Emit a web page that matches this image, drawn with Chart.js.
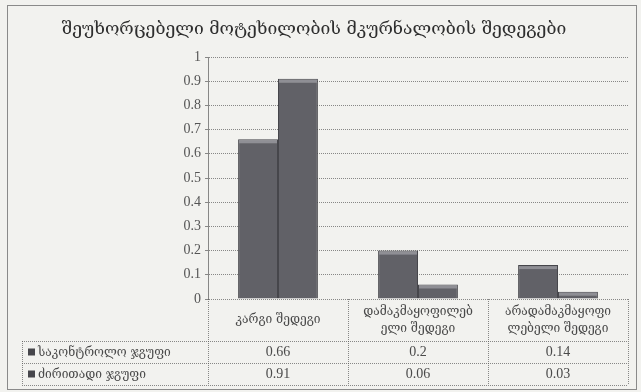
<!DOCTYPE html>
<html>
<head>
<meta charset="utf-8">
<script src="https://cdn.jsdelivr.net/npm/chart.js@4/dist/chart.umd.min.js"></script>
<style>
  html, body { margin: 0; padding: 0; background: #f2f2ef; }
  #wrap { width: 641px; height: 392px; }
</style>
</head>
<body>
<div id="wrap"><canvas id="c" width="641" height="392"></canvas></div>
<script>
// Treatment outcome categories (each label split into the lines shown in the table header)
const categories = [
  ["კარგი შედეგი"],
  ["დამაკმაყოფილებ", "ელი შედეგი"],
  ["არადამაკმაყოფი", "ლებელი შედეგი"]
];
const seriesNames = ["საკონტროლო ჯგუფი", "ძირითადი ჯგუფი"];
const controlGroup = [0.66, 0.2, 0.14];
const mainGroup = [0.91, 0.06, 0.03];
const valueTicks = [0, 0.1, 0.2, 0.3, 0.4, 0.5, 0.6, 0.7, 0.8, 0.9, 1];
const chartTitle = "შეუხორცებელი მოტეხილობის მკურნალობის შედეგები";

const georgianFont = "'DejaVu Serif', 'DejaVu Sans', serif";
const numberFont = "'Liberation Serif', 'DejaVu Serif', serif";
const barFill = "#616167";
const barEdge = "#46464b";
const lineGrey = "rgba(90,90,90,0.7)";

// Paper-coloured background plus the outer frame
const backdrop = {
  id: "backdrop",
  beforeDraw(chart) {
    const ctx = chart.ctx;
    ctx.save();
    ctx.fillStyle = "#f2f2ef";
    ctx.fillRect(0, 0, chart.width, chart.height);
    ctx.strokeStyle = "#8a8a8a";
    ctx.lineWidth = 1;
    ctx.strokeRect(7.5, 5.5, chart.width - 12, chart.height - 8);
    ctx.restore();
  }
};

// Light bevel along the top of each bar
const bevel = {
  id: "bevel",
  afterDatasetsDraw(chart) {
    const ctx = chart.ctx;
    ctx.save();
    chart.data.datasets.forEach((ds, i) => {
      chart.getDatasetMeta(i).data.forEach(bar => {
        const w = bar.width;
        const left = bar.x - w / 2;
        const h = Math.min(3, bar.base - bar.y - 1);
        ctx.fillStyle = "rgba(190,190,196,0.5)";
        ctx.fillRect(left + 1, bar.y + 1, w - 2, h);
      });
    });
    ctx.restore();
  }
};

// Data table under the plot: category header row and one row per series
const dataTable = {
  id: "dataTable",
  afterDraw(chart) {
    const ctx = chart.ctx;
    const area = chart.chartArea;
    const x = chart.scales.x;
    const n = categories.length;
    const colW = (area.right - area.left) / n;
    const headTop = area.bottom;
    const headBottom = area.bottom + 42;
    const rowH = 22;
    const tableLeft = 22;
    const tableBottom = headBottom + rowH * seriesNames.length;

    ctx.save();
    ctx.strokeStyle = lineGrey;
    ctx.lineWidth = 1;
    ctx.setLineDash([1, 1]);
    ctx.beginPath();
    // vertical rules
    for (let i = 0; i <= n; i++) {
      const px = Math.round(area.left + i * colW) + 0.5;
      ctx.moveTo(px, headTop);
      ctx.lineTo(px, tableBottom);
    }
    ctx.moveTo(tableLeft + 0.5, headBottom);
    ctx.lineTo(tableLeft + 0.5, tableBottom);
    // horizontal rules
    for (let r = 0; r <= seriesNames.length; r++) {
      const py = Math.round(headBottom + r * rowH) + 0.5;
      ctx.moveTo(tableLeft, py);
      ctx.lineTo(area.right, py);
    }
    ctx.stroke();
    ctx.setLineDash([]);

    // header labels
    ctx.fillStyle = "#4a4a4a";
    ctx.textAlign = "center";
    ctx.textBaseline = "middle";
    ctx.font = "12px " + georgianFont;
    categories.forEach((lines, i) => {
      const cx = x.getPixelForValue(i);
      const mid = (headTop + headBottom) / 2;
      const lh = 17;
      lines.forEach((t, k) => {
        ctx.fillText(t, cx, mid + (k - (lines.length - 1) / 2) * lh);
      });
    });

    // series rows
    const series = [controlGroup, mainGroup];
    series.forEach((vals, r) => {
      const cy = headBottom + r * rowH + rowH / 2 + 0.5;
      ctx.fillStyle = barEdge;
      ctx.fillRect(tableLeft + 6, cy - 4, 7, 7);
      ctx.fillStyle = "#4a4a4a";
      ctx.textAlign = "left";
      ctx.font = "12px " + georgianFont;
      ctx.fillText(seriesNames[r], tableLeft + 16, cy);
      ctx.textAlign = "center";
      ctx.font = "14px " + numberFont;
      vals.forEach((v, i) => {
        ctx.fillText(String(v), x.getPixelForValue(i), cy);
      });
    });
    ctx.restore();
  }
};

new Chart(document.getElementById("c"), {
  type: "bar",
  data: {
    labels: categories,
    datasets: [
      { label: seriesNames[0], data: controlGroup, backgroundColor: barFill, borderColor: barEdge, borderWidth: 1 },
      { label: seriesNames[1], data: mainGroup, backgroundColor: barFill, borderColor: barEdge, borderWidth: 1 }
    ]
  },
  options: {
    responsive: false,
    animation: false,
    devicePixelRatio: 1,
    layout: { padding: { left: 0, right: 13, top: 0, bottom: 93 } },
    datasets: { bar: { categoryPercentage: 0.57, barPercentage: 1.0 } },
    plugins: {
      legend: { display: false },
      tooltip: { enabled: false },
      title: {
        display: true,
        text: chartTitle,
        color: "#2e2e2e",
        font: { family: georgianFont, size: 17.5, weight: "normal", lineHeight: 1.2 },
        padding: { top: 19, bottom: 17 }
      }
    },
    scales: {
      x: { display: false },
      y: {
        min: 0,
        max: 1,
        afterFit(scale) { scale.width = 208; },
        afterBuildTicks(scale) { scale.ticks = valueTicks.map(v => ({ value: v })); },
        ticks: {
          color: "#555",
          padding: 4,
          font: { family: numberFont, size: 14 },
          callback: v => String(v)
        },
        grid: {
          color: lineGrey,
          drawTicks: true,
          tickLength: 3,
          lineWidth: 1
        },
        border: { display: true, color: lineGrey, dash: [1, 1] }
      }
    }
  },
  plugins: [backdrop, bevel, dataTable]
});
</script>
</body>
</html>
